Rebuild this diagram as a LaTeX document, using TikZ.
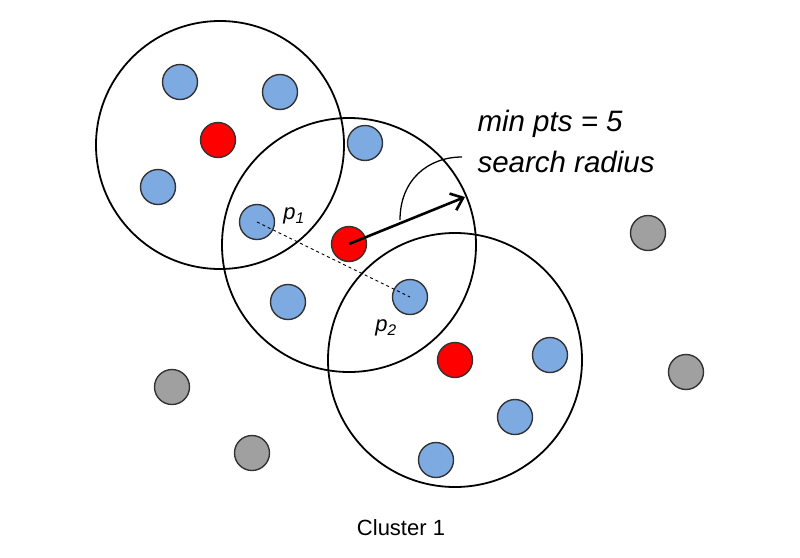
\documentclass[tikz,border=0pt]{standalone}
\usepackage{fontspec}
\setmainfont{Liberation Sans}
\usetikzlibrary{arrows.meta}
\definecolor{dotblue}{RGB}{126,170,226}
\definecolor{dotred}{RGB}{255,0,0}
\definecolor{dotgrey}{RGB}{160,160,160}
\begin{document}
\begin{tikzpicture}[x=1pt,y=-1pt,
  big/.style={draw=black,line width=1.8pt},
  dot/.style={circle,draw=black!80,line width=1.4pt,minimum size=35pt,inner sep=0pt},
  blue/.style={dot,fill=dotblue},
  red/.style={dot,fill=dotred},
  grey/.style={dot,fill=dotgrey},
  lbl/.style={font=\fontsize{29.5}{32}\selectfont\itshape}]
\useasboundingbox (0,0) rectangle (800,557);
\draw[big] (220,145) circle (124);
\draw[big] (349,245) circle (127);
\draw[big] (455,360) circle (127);
\foreach \n/\x/\y in {b1/180/82,b2/280/92,b3/158/187,b4/257/222,b5/365/143,b6/288/302,b7/410/297,b8/550/355,b9/515/417,b10/436/460}
  \node[blue] (\n) at (\x,\y) {};
\foreach \n/\x/\y in {r1/218/140,r2/349/244,r3/455/360}
  \node[red] (\n) at (\x,\y) {};
\foreach \n/\x/\y in {g1/648/233,g2/686/372,g3/172/387,g4/252/453}
  \node[grey] (\n) at (\x,\y) {};
\draw[dashed,line width=0.9pt] (b4.center) -- (b7.center);
\coordinate (tip) at (465,197);
\draw[line width=2.6pt,-{Straight Barb[length=11pt,width=18pt]}] (r2.center) -- (tip);
\coordinate (a0) at (400,220);
\coordinate (a1) at (462,157);
\draw[line width=1.3pt] (a0) .. controls (400,180) and (428,157) .. (a1);
\node[lbl,anchor=west] (t1) at (474,124) {min pts = 5};
\node[lbl,anchor=west] (t2) at (474,162) {search radius};
\node[font=\fontsize{22}{24}\selectfont\itshape] (p1) at (294,216) {p\textsubscript{1}};
\node[font=\fontsize{22}{24}\selectfont\itshape] (p2) at (386,328) {p\textsubscript{2}};
\node[font=\fontsize{22}{26}\selectfont] (c) at (401,528) {Cluster 1};
\end{tikzpicture}
\end{document}
